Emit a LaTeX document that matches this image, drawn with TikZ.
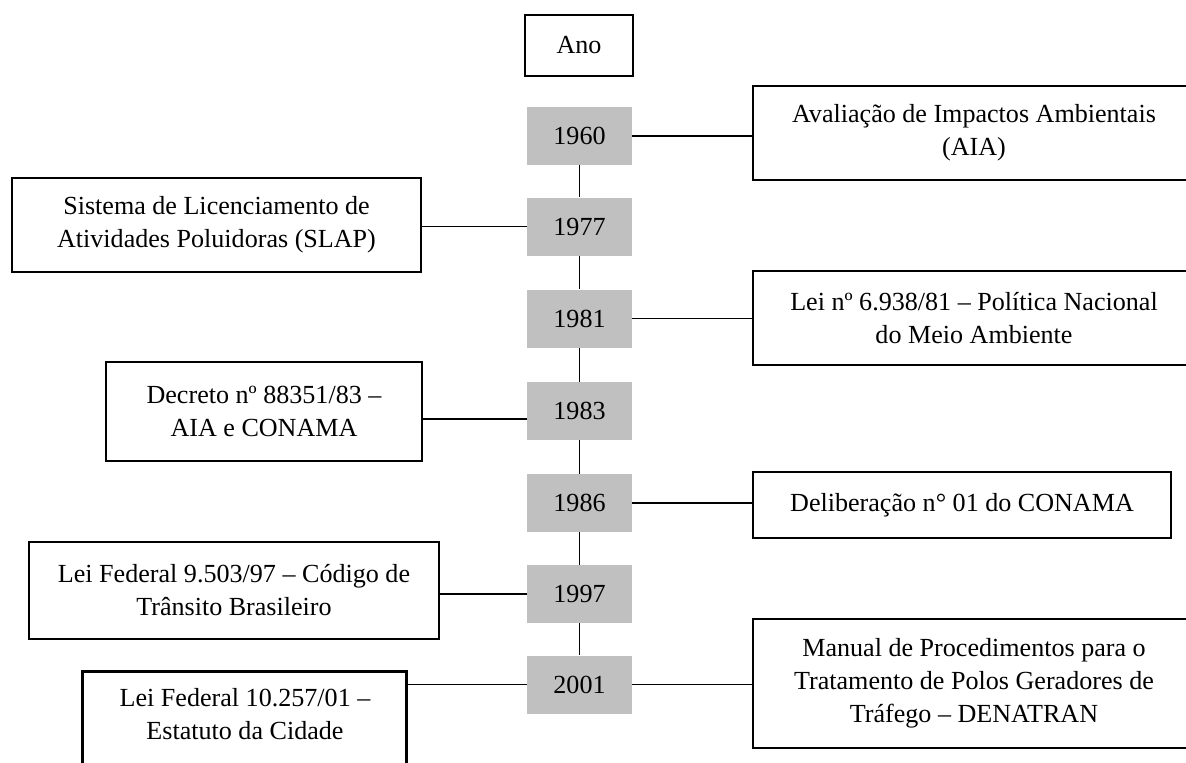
\documentclass[tikz,border=0pt]{standalone}
\usepackage{fontspec}
\setmainfont{Liberation Serif}
\definecolor{yeargray}{HTML}{C0C0C0}
\newcommand{\pxu}{0.46pt}

\begin{document}
\begin{tikzpicture}
[x=0.46pt, y=-0.46pt, font=\fontsize{12}{15.2}\selectfont,
 year/.style={fill=yeargray, minimum width=105*\pxu, minimum height=58*\pxu, inner sep=0},
 box/.style={draw, line width=1pt, align=center, inner sep=0},
 link/.style={line width=0.9pt}]
\useasboundingbox (0,0) rectangle (1186,762);
% coluna dos anos
\node[box, minimum width=108*\pxu, minimum height=61*\pxu] (ano) at (579,45.5) {Ano};
\node[year] (y1960) at (579.5,136) {1960};
\node[year] (y1977) at (579.5,226.5) {1977};
\node[year] (y1981) at (579.5,318.5) {1981};
\node[year] (y1983) at (579.5,411) {1983};
\node[year] (y1986) at (579.5,503) {1986};
\node[year] (y1997) at (579.5,594) {1997};
\node[year] (y2001) at (579.5,684.5) {2001};
\draw[link] (y1960) -- (y1977);
\draw[link] (y1977) -- (y1981);
\draw[link] (y1981) -- (y1983);
\draw[link] (y1983) -- (y1986);
\draw[link] (y1986) -- (y1997);
\draw[link] (y1997) -- (y2001);
% marcos
\node[box, minimum width=442*\pxu, minimum height=94*\pxu] (aia) at (974,133)
  {Avaliação de Impactos Ambientais\\(AIA)};
\node[box, minimum width=409*\pxu, minimum height=94*\pxu] (slap) at (216.5,225)
  {Sistema de Licenciamento de\\Atividades Poluidoras (SLAP)};
\node[box, minimum width=442*\pxu, minimum height=94*\pxu] (pnma) at (974,318)
  {Lei nº 6.938/81 -- Política Nacional\\do Meio Ambiente};
\node[box, minimum width=316*\pxu, minimum height=99*\pxu] (decreto) at (264,411.5)
  {Decreto nº 88351/83 --\\AIA e CONAMA};
\node[box, minimum width=418*\pxu, minimum height=66*\pxu] (delib) at (962,505)
  {Deliberação n° 01 do CONAMA};
\node[box, minimum width=410*\pxu, minimum height=97*\pxu] (ctb) at (234,590.5)
  {Lei Federal 9.503/97 -- Código de\\Trânsito Brasileiro};
\node[box, minimum width=442*\pxu, minimum height=129*\pxu] (manual) at (974,683.5)
  {Manual de Procedimentos para o\\Tratamento de Polos Geradores de\\Tráfego -- DENATRAN};
\node[align=center, inner sep=0, minimum width=324*\pxu, minimum height=84*\pxu] (estatuto) at (245,714)
  {Lei Federal 10.257/01 --\\Estatuto da Cidade};
\draw[line width=1pt] (estatuto.north west) rectangle ++(324,120);
% ligações
\draw[link] (y1960.east) -- (y1960.east -| aia.west);
\draw[link] (y1977.west) -- (y1977.west -| slap.east);
\draw[link] (y1981.east) -- (y1981.east -| pnma.west);
\draw[link] ([yshift=-8*\pxu]y1983.west) -- ([yshift=-8*\pxu]y1983.west -| decreto.east);
\draw[link] (y1986.east) -- (y1986.east -| delib.west);
\draw[link] (y1997.west) -- (y1997.west -| ctb.east);
\draw[link] (y2001.east) -- (y2001.east -| manual.west);
\draw[link] (y2001.west) -- (y2001.west -| estatuto.east);
\end{tikzpicture}
\end{document}
